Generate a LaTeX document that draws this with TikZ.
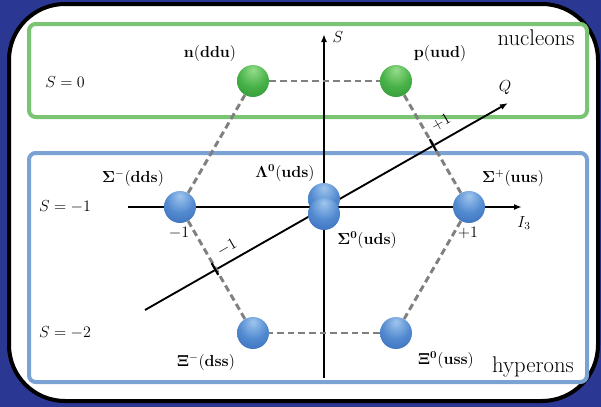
\documentclass[tikz,border=0pt]{standalone}
\usetikzlibrary{calc,arrows.meta}
\definecolor{bgblue}{RGB}{42,56,148}
\definecolor{boxgreen}{RGB}{122,196,116}
\definecolor{boxblue}{RGB}{122,163,212}
\definecolor{dashgray}{RGB}{128,128,128}
\definecolor{bA}{RGB}{160,198,238}
\definecolor{bB}{RGB}{82,138,208}
\definecolor{bC}{RGB}{38,88,168}
\definecolor{gA}{RGB}{150,220,140}
\definecolor{gB}{RGB}{72,178,72}
\definecolor{gC}{RGB}{28,128,40}
\pgfdeclareradialshading{blueball}{\pgfpoint{0bp}{18bp}}{color(0bp)=(bA); color(22bp)=(bB); color(55bp)=(bC); color(75bp)=(bC)}
\pgfdeclareradialshading{greenball}{\pgfpoint{0bp}{18bp}}{color(0bp)=(gA); color(22bp)=(gB); color(55bp)=(gC); color(75bp)=(gC)}
\pgfdeclarelayer{bg}
\pgfsetlayers{bg,main}
\begin{document}
\begin{tikzpicture}[x=0.75pt,y=-0.75pt,
  bball/.style={circle,minimum size=24pt,inner sep=0pt,shading=blueball},
  gball/.style={circle,minimum size=24pt,inner sep=0pt,shading=greenball},
  lab/.style={font=\fontsize{12}{14}\selectfont,inner sep=0pt},
  biglab/.style={font=\fontsize{17}{20}\selectfont,inner sep=0pt},
  axis/.style={line width=1.4pt,-{Latex[length=6pt,width=4.5pt]}},
  dashline/.style={draw=dashgray,line width=2.2pt,dash pattern=on 5pt off 3pt},
  tickmark/.style={line width=1.6pt},
  groupbox/.style={line width=3pt,rounded corners=5pt}]
\useasboundingbox (0,0) rectangle (601,407);
\begin{pgfonlayer}{bg}
\fill[bgblue] (0,0) rectangle (601,407);
\draw[line width=3pt,fill=white,rounded corners=42pt] (9,4) rectangle (598,401);
\draw[groupbox,draw=boxgreen] (29,24) rectangle (587,117);
\draw[groupbox,draw=boxblue] (29,153) rectangle (587,382);
\coordinate (Sb) at (324,378);
\coordinate (St) at (324,34);
\coordinate (Il) at (128,207);
\coordinate (Ir) at (522,207);
\coordinate (Ql) at (145,310);
\coordinate (Qr) at (508,103);
\draw[axis] (Sb) -- (St);
\draw[axis] (Il) -- (Ir);
\draw[axis] (Ql) -- (Qr);
\end{pgfonlayer}
% balls
\node[gball] (n) at (253,81) {};
\node[gball] (p) at (396,81) {};
\node[bball] (Sm) at (180,207) {};
\node[bball] (Sp) at (469,207) {};
\node[bball] (L0) at (324,199) {};
\node[bball] (S0) at (324,214) {};
\node[bball] (Xm) at (253,333) {};
\node[bball] (X0) at (396,333) {};
% dashed hexagon
\draw[dashline] (n) -- (p);
\draw[dashline] (p) -- (Sp);
\draw[dashline] (Sp) -- (X0);
\draw[dashline] (X0) -- (Xm);
\draw[dashline] (Xm) -- (Sm);
\draw[dashline] (Sm) -- (n);
% ticks on Q axis
\coordinate (tp) at (433,145);
\coordinate (tm) at (215,269);
\draw[tickmark] ($(tp)!5pt!90:(Qr)$) -- ($(tp)!5pt!-90:(Qr)$);
\draw[tickmark] ($(tm)!5pt!90:(Qr)$) -- ($(tm)!5pt!-90:(Qr)$);
\node[lab,rotate=30] (tpl) at (441,123) {$+1$};
\node[lab,rotate=30] (tml) at (227,248) {$-1$};
% axis labels
\node[lab] (Slab) at (338,37) {$S$};
\node[lab] (Ilab) at (524,223) {$I_3$};
\node[lab] (Qlab) at (505,88) {$Q$};
\node[lab] (m1) at (179,233) {$-1$};
\node[lab] (p1) at (468,233) {$+1$};
% S levels
\node[lab] (S0l) at (65,82) {$S=0$};
\node[lab] (S1l) at (65,207) {$S=-1$};
\node[lab] (S2l) at (65,333) {$S=-2$};
% particle labels
\node[lab] (nl) at (210,53) {$\mathbf{n}(\mathbf{ddu})$};
\node[lab] (pl) at (440,53) {$\mathbf{p}(\mathbf{uud})$};
\node[lab] (Sml) at (133,178) {$\mathbf{\Sigma}^-(\mathbf{dds})$};
\node[lab] (Spl) at (513,178) {$\mathbf{\Sigma}^+(\mathbf{uus})$};
\node[lab] (L0l) at (285,173) {$\mathbf{\Lambda^0}(\mathbf{uds})$};
\node[lab] (S0l2) at (367,240) {$\mathbf{\Sigma^0}(\mathbf{uds})$};
\node[lab] (Xml) at (206,362) {$\mathbf{\Xi}^-(\mathbf{dss})$};
\node[lab] (X0l) at (446,360) {$\mathbf{\Xi^0}(\mathbf{uss})$};
% group names
\node[biglab] (nuc) at (536,38) {nucleons};
\node[biglab] (hyp) at (533,367) {hyperons};
\end{tikzpicture}
\end{document}
